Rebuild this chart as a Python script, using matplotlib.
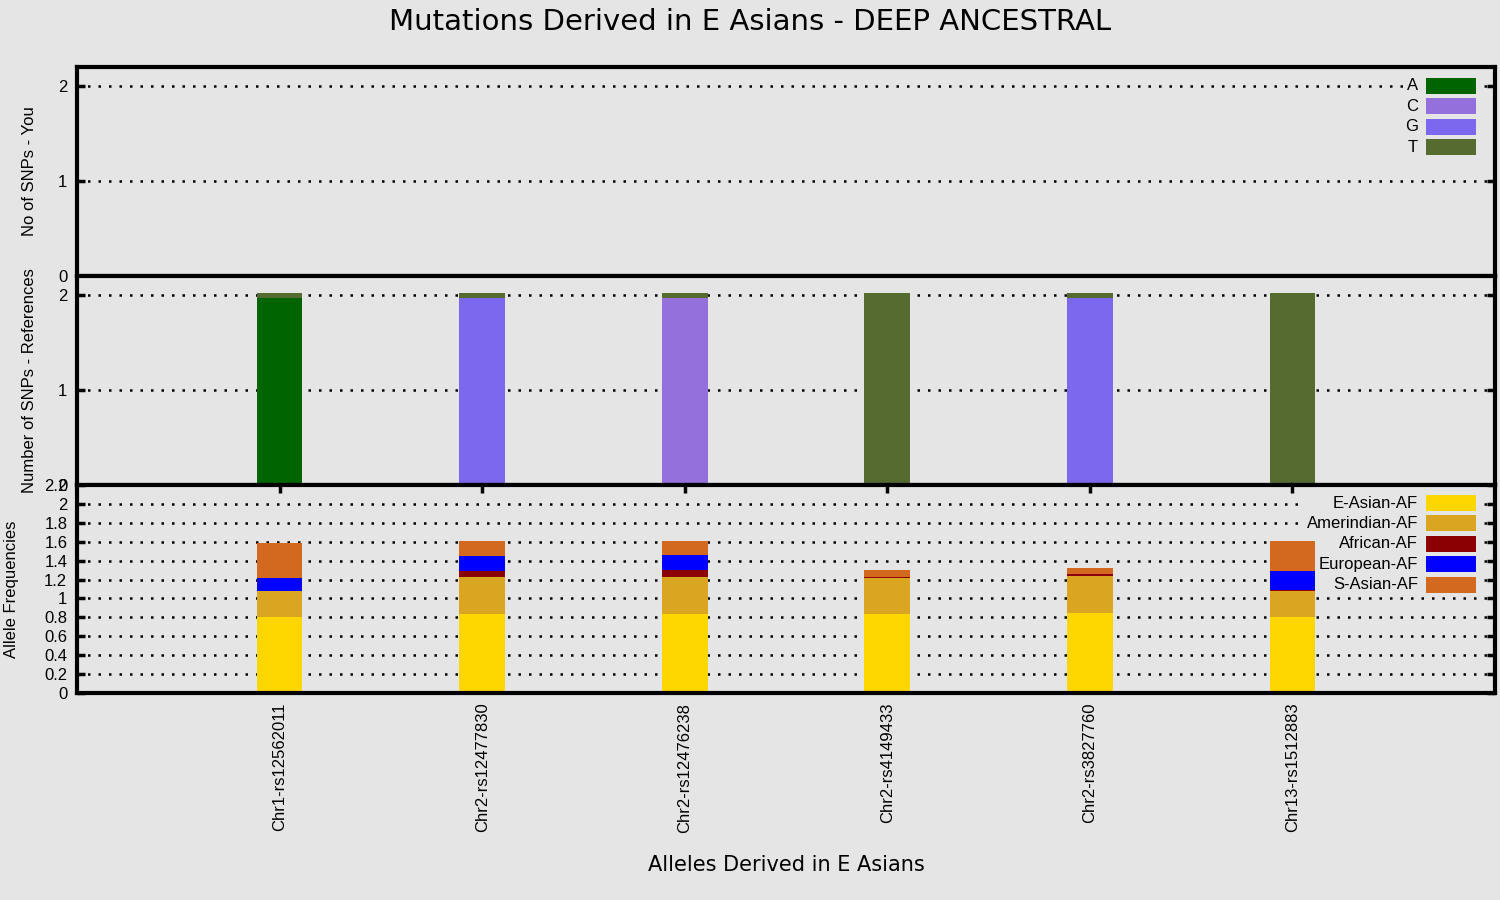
import numpy as np
import matplotlib.pyplot as plt
from matplotlib.patches import Rectangle

snps = ['Chr1-rs12562011', 'Chr2-rs12477830', 'Chr2-rs12476238',
        'Chr2-rs4149433', 'Chr2-rs3827760', 'Chr13-rs1512883']

# you: nothing called
you_A = [0, 0, 0, 0, 0, 0]
you_C = [0, 0, 0, 0, 0, 0]
you_G = [0, 0, 0, 0, 0, 0]
you_T = [0, 0, 0, 0, 0, 0]

# references
ref_A = [1.97, 0, 0, 0, 0, 0]
ref_C = [0, 0, 1.97, 0, 0, 0]
ref_G = [0, 1.97, 0, 0, 1.97, 0]
ref_T = [0.05, 0.05, 0.05, 2.02, 0.05, 2.02]

# allele frequencies
e_asian = [0.80, 0.84, 0.84, 0.84, 0.85, 0.80]
amerind = [0.28, 0.39, 0.39, 0.38, 0.39, 0.28]
african = [0.0, 0.056, 0.066, 0.01, 0.02, 0.01]
european = [0.14, 0.16, 0.16, 0.0, 0.0, 0.20]
s_asian = [0.37, 0.16, 0.15, 0.07, 0.066, 0.32]

base_labels = ['A', 'C', 'G', 'T']
base_colors = ['#006400', '#9370DB', '#7B68EE', '#556B2F']
af_labels = ['E-Asian-AF', 'Amerindian-AF', 'African-AF', 'European-AF', 'S-Asian-AF']
af_colors = ['#FFD700', '#DAA520', '#8B0000', '#0000FF', '#D2691E']

bg = '#e5e5e5'
tickfont = 'Liberation Sans'
fs = 12
W, H = 1500, 900

fig = plt.figure(figsize=(15, 9), dpi=100, facecolor=bg)
# axes boxes in pixels: left, top, right, bottom
boxes = [(77, 67, 1495, 276), (77, 276, 1495, 485), (77, 485, 1495, 693)]
axes = []
for (l, t, r, b) in boxes:
    ax = fig.add_axes([l / W, 1 - b / H, (r - l) / W, (b - t) / H], facecolor=bg)
    axes.append(ax)
ax1, ax2, ax3 = axes

x = np.arange(len(snps))
bw = 0.225


def stack(ax, series, colors):
    bottom = np.zeros(len(x))
    for vals, c in zip(series, colors):
        vals = np.array(vals, dtype=float)
        ax.bar(x, vals, bw, bottom=bottom, color=c, zorder=2, linewidth=0)
        bottom += vals


def key(ax, labels, colors, top_px, left_px, ax_h):
    # gnuplot-like key: text right-aligned, colour box to the right
    step = 20.4 / ax_h
    bh = 16 / ax_h
    x_txt = (1418 - 77) / 1418
    x0 = (1426 - 77) / 1418
    bxw = 50 / 1418
    y_top = 1 - top_px / ax_h
    n = len(labels)
    ax.add_patch(Rectangle(((left_px - 77) / 1418, y_top - (n - 0.5) * step - 0.01),
                           (1484 - left_px) / 1418, n * step + 0.02,
                           transform=ax.transAxes, facecolor=bg, edgecolor='none', zorder=1.5))
    for i, (lab, c) in enumerate(zip(labels, colors)):
        yc = y_top - i * step
        ax.text(x_txt, yc, lab, transform=ax.transAxes, ha='right', va='center',
                fontsize=fs, family=tickfont, zorder=3)
        ax.add_patch(Rectangle((x0, yc - bh / 2), bxw, bh, transform=ax.transAxes,
                               facecolor=c, edgecolor='none', zorder=3))


stack(ax1, [you_A, you_C, you_G, you_T], base_colors)
stack(ax2, [ref_A, ref_C, ref_G, ref_T], base_colors)
stack(ax3, [e_asian, amerind, african, european, s_asian], af_colors)

for ax in axes:
    ax.set_xlim(-1, 6)
    for s in ax.spines.values():
        s.set_linewidth(3)
    ax.tick_params(axis='y', direction='in', length=6, width=2.5, left=True, right=True,
                   labelsize=fs, pad=7)

ax1.set_ylim(0, 2.2)
ax2.set_ylim(0, 2.2)
ax3.set_ylim(0, 2.2)
for ax in (ax1, ax2):
    ax.set_yticks([0, 1, 2])
    ax.set_yticklabels(['0', '1', '2'], family=tickfont)
af_ticks = np.round(np.arange(0, 2.21, 0.2), 1)
ax3.set_yticks(af_ticks)
ax3.set_yticklabels(['%g' % v for v in af_ticks], family=tickfont)

for ax in axes:
    for v in ax.get_yticks():
        if 0 < v < 2.19:
            ax.axhline(v, color='black', linestyle=(0, (1, 3.2)), linewidth=1.8, zorder=0.5)

for ax in (ax1, ax2):
    ax.set_xticks([])
ax3.set_xticks(x)
ax3.set_xticklabels(snps, rotation=90, fontsize=fs, family=tickfont)
ax3.tick_params(axis='x', direction='in', bottom=False, top=True, length=6, width=2.5,
                labelbottom=True, pad=7)

key(ax1, base_labels, base_colors, 86 - 67, 1404, 209)
key(ax3, af_labels, af_colors, 503 - 485, 1300, 208)

fig.text(0.5, 1 - 22 / H, 'Mutations Derived in E Asians - DEEP ANCESTRAL',
         ha='center', va='center', fontsize=21, family='DejaVu Sans')
fig.text(786 / W, 1 - 865 / H, 'Alleles Derived in E Asians',
         ha='center', va='center', fontsize=15, family='DejaVu Sans')
fig.text(30 / W, 1 - 171.5 / H, 'No of SNPs - You', rotation=90,
         ha='center', va='center', fontsize=fs, family=tickfont)
fig.text(30 / W, 1 - 380.5 / H, 'Number of SNPs - References', rotation=90,
         ha='center', va='center', fontsize=fs, family=tickfont)
fig.text(12 / W, 1 - 589 / H, 'Allele Frequencies', rotation=90,
         ha='center', va='center', fontsize=fs, family=tickfont)

fig.savefig('out.png', dpi=100, facecolor=bg)
